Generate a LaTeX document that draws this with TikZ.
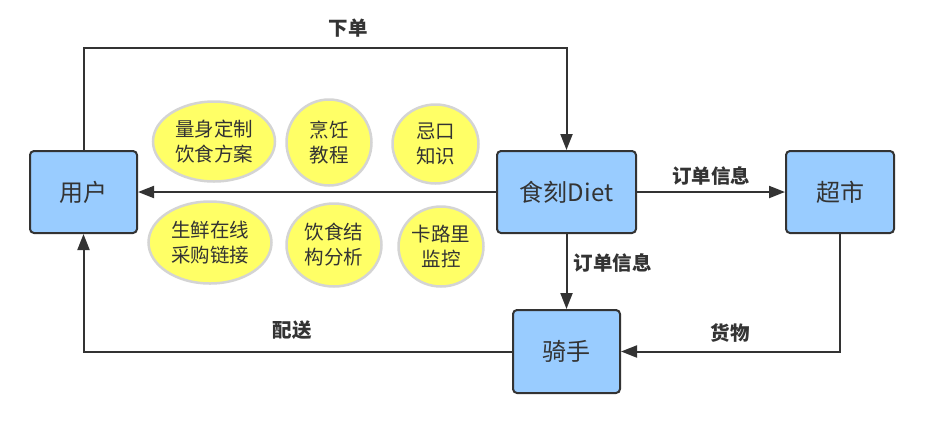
\documentclass[tikz,border=0pt]{standalone}
\usepackage{fontspec}
\newfontfamily\cjk{Noto Sans CJK SC}
\usetikzlibrary{arrows.meta,shapes.geometric}
\definecolor{boxblue}{HTML}{99CCFF}
\definecolor{ovalfill}{HTML}{FFFF66}
\definecolor{rim}{HTML}{D4D4D4}
\definecolor{ink}{HTML}{333333}
\begin{document}
\begin{tikzpicture}[x=1pt, y=-1pt, every node/.style={text=ink},
  box/.style={draw=ink, line width=2pt, rounded corners=4pt, fill=boxblue, minimum height=82pt, font=\cjk\fontsize{24}{28}\selectfont},
  oval/.style={ellipse, draw=rim, line width=2.5pt, fill=ovalfill, align=center, inner sep=0pt, font=\cjk\fontsize{19.5}{25}\selectfont},
  flow/.style={-{Triangle[length=16pt,width=12pt]}, draw=ink, line width=2pt},
  tag/.style={font=\cjk\bfseries\fontsize{19.5}{22}\selectfont}]
\useasboundingbox (0,0) rectangle (941,424);
\node[box, minimum width=107pt] (user) at (83.5,192) {用户};
\node[box, minimum width=139pt] (diet) at (566.5,192) {食刻Diet};
\node[box, minimum width=108pt] (market) at (840,192) {超市};
\node[box, minimum width=107pt, minimum height=83pt] (rider) at (566.5,351.5) {骑手};
\node[oval, minimum width=122pt, minimum height=80pt] (plan) at (214,141.5) {量身定制\\饮食方案};
\node[oval, minimum width=85pt, minimum height=86pt] (cook) at (329,142.5) {烹饪\\教程};
\node[oval, minimum width=86pt, minimum height=79pt] (taboo) at (435.5,144) {忌口\\知识};
\node[oval, minimum width=123pt, minimum height=82pt] (fresh) at (210,242.5) {生鲜在线\\采购链接};
\node[oval, minimum width=95pt, minimum height=83pt] (struct) at (334,245) {饮食结\\构分析};
\node[oval, minimum width=85pt, minimum height=80pt] (calorie) at (441,246.5) {卡路里\\监控};
\coordinate (bend) at (83.5,48);
\draw[flow] (user.north) -- (bend) -| (diet.north);
\draw[flow] (diet) -- (user);
\draw[flow] (diet) -- (market);
\draw[flow] (diet) -- (rider);
\draw[flow] (market) |- (rider);
\draw[flow] (rider) -| (user);
\node[tag] (order) at (348,28) {下单};
\node[tag] (info1) at (711,176) {订单信息};
\node[tag] (info2) at (612.5,263) {订单信息};
\node[tag] (goods) at (730,333) {货物};
\node[tag] (deliver) at (292,330) {配送};
\end{tikzpicture}
\end{document}
